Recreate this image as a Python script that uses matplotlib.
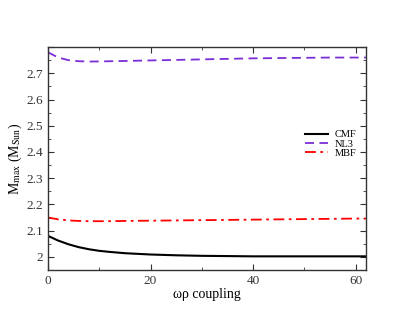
import matplotlib
matplotlib.use("Agg")
import matplotlib.pyplot as plt
from matplotlib.ticker import MultipleLocator, FuncFormatter

coupling = [0, 2, 4, 6, 8, 10, 12, 15, 20, 25, 30, 35, 40, 45, 50, 55, 60, 62]
cmf = [2.080, 2.062, 2.048, 2.037, 2.029, 2.023, 2.019, 2.014, 2.009, 2.006, 2.004, 2.003, 2.002, 2.002, 2.002, 2.002, 2.002, 2.002]
nl3 = [2.780, 2.760, 2.750, 2.746, 2.745, 2.745, 2.746, 2.747, 2.749, 2.751, 2.753, 2.755, 2.757, 2.758, 2.759, 2.760, 2.760, 2.760]
mbf = [2.150, 2.143, 2.139, 2.137, 2.136, 2.136, 2.136, 2.137, 2.138, 2.139, 2.140, 2.141, 2.142, 2.143, 2.144, 2.145, 2.146, 2.146]

plt.rcParams['font.family'] = ['Liberation Serif', 'DejaVu Serif']
plt.rcParams['mathtext.fontset'] = 'stix'

fig = plt.figure(figsize=(4.12, 3.18), dpi=100)
ax = fig.add_axes([0.1165, 0.151, 0.7715, 0.701])

ax.plot(coupling, cmf, color='black', lw=1.5, label='CMF')
ax.plot(coupling, nl3, color='#7b2ed6', lw=1.3, dashes=(5, 3), label='NL3')
ax.plot(coupling, mbf, color='red', lw=1.3, dashes=(6, 2.5, 1.5, 2.5), label='MBF')

ax.set_xlim(0, 62)
ax.set_ylim(1.95, 2.8)
ax.xaxis.set_major_locator(MultipleLocator(20))
ax.xaxis.set_minor_locator(MultipleLocator(10))
ax.yaxis.set_major_locator(MultipleLocator(0.1))
ax.yaxis.set_minor_locator(MultipleLocator(0.05))

def yfmt(v, p):
    if v > 2.75:
        return ''
    return ('%.1f' % v).rstrip('0').rstrip('.')

ax.yaxis.set_major_formatter(FuncFormatter(yfmt))
ax.tick_params(which='both', direction='in', top=True, right=True, labelsize=9.5, colors='#333333')
ax.tick_params(which='major', length=4)
ax.tick_params(which='minor', length=2)
for s in ax.spines.values():
    s.set_linewidth(1.0)
    s.set_color('#333333')

ax.set_xlabel('ωρ coupling', fontsize=10, labelpad=1)
ax.set_ylabel(r'M$_{\rm max}$ (M$_{\rm Sun}$)', fontsize=10, labelpad=2)

ax.legend(loc='upper left', bbox_to_anchor=(0.78, 0.67), frameon=False, fontsize=7.5,
          handlelength=2.2, handletextpad=0.6, labelspacing=0.0)

fig.savefig('out.png', dpi=100)
